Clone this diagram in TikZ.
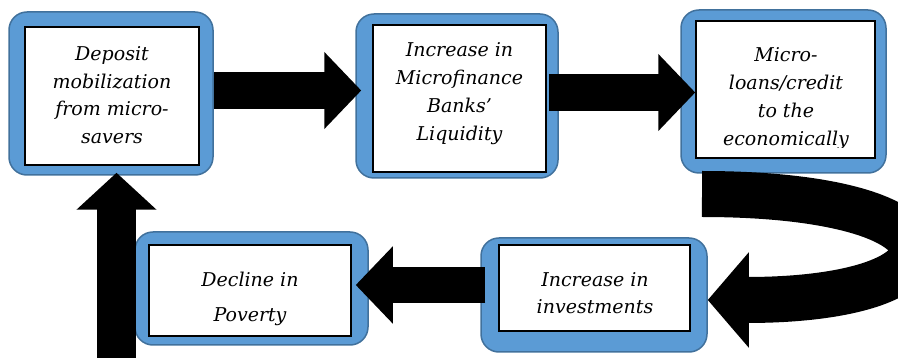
\documentclass[tikz,border=0pt]{standalone}
\usepackage{fontspec}
\setmainfont{DejaVu Serif}
\usetikzlibrary{arrows.meta}
\definecolor{boxblue}{HTML}{5B9BD5}
\definecolor{boxedge}{HTML}{41719C}
\tikzset{
  outerbox/.style={draw=boxedge, fill=boxblue, line width=1.5pt, rounded corners=18pt, inner sep=0pt},
  innerbox/.style={draw=black, fill=white, line width=1.6pt, inner sep=0pt},
  txt/.style={font=\itshape\fontsize{19}{27.5}\selectfont, align=center, inner sep=0pt},
  txtb/.style={font=\itshape\fontsize{19}{28}\selectfont, align=center, inner sep=0pt},
  txtwide/.style={font=\itshape\fontsize{19}{35}\selectfont, align=center, inner sep=0pt},
  blockarrow/.style={draw=black, line width=37pt, -{Triangle[length=37pt,width=75pt]}},
}
\begin{document}
\begin{tikzpicture}[x=1pt,y=-1pt]
\clip (0,0) rectangle (898,358);
% boxes
\node[outerbox, minimum width=204pt, minimum height=163pt] (o1) at (111,93.5) {};
\node[innerbox, minimum width=174pt, minimum height=138pt] (i1) at (112,96) {};
\node[outerbox, minimum width=202pt, minimum height=164pt] (o2) at (457,96) {};
\node[innerbox, minimum width=173pt, minimum height=147pt] (i2) at (459.5,98.5) {};
\node[outerbox, minimum width=205pt, minimum height=163pt] (o3) at (783.5,91.5) {};
\node[innerbox, minimum width=179pt, minimum height=137pt] (i3) at (785.5,89.5) {};
\node[outerbox, minimum width=233pt, minimum height=113pt] (o4) at (251.5,288.5) {};
\node[innerbox, minimum width=202pt, minimum height=91pt] (i4) at (250,290.5) {};
\node[outerbox, minimum width=226pt, minimum height=114pt] (o5) at (594,295) {};
\node[innerbox, minimum width=191pt, minimum height=86pt] (i5) at (594.5,288) {};
% texts (base anchor = baseline of last line)
\node[txt, anchor=base] (t1) at (112,143.5) {Deposit\\mobilization\\from micro-\\savers};
\node[txtb, anchor=base] (t2) at (459.5,140.5) {Increase in\\Microfinance\\Banks'\\Liquidity};
\begin{scope}
\clip (i3.north west) rectangle ([yshift=11pt]i3.south east);
\node[txtb, anchor=base] (t3) at (786,146) {Micro-\\loans/credit\\to the\\economically};
\end{scope}
\node[txtwide, anchor=base] (t4) at (250,322) {Decline in\\Poverty};
\node[txt, anchor=base] (t5) at (595,314) {Increase in\\investments};
% arrows
\draw[blockarrow] ([yshift=3pt]o1.east) -- ([xshift=6pt,yshift=5.5pt]o2.west);
\draw[blockarrow] ([xshift=-10pt,yshift=3.5pt]o2.east) -- ([xshift=15pt,yshift=-1pt]o3.west);
\draw[blockarrow, line width=36pt] ([xshift=5pt,yshift=10pt]o5.west) -- ([xshift=-13pt,yshift=3.5pt]o4.east);
\coordinate (upstart) at (116.5,362);
\draw[blockarrow, line width=39pt, -{Triangle[length=37pt,width=78pt]}] (upstart) -- ([xshift=5.5pt,yshift=3pt]o1.south);
\coordinate (curvestart) at (702,194);
\draw[draw=black, line width=46pt, -{Triangle[length=41pt,width=93pt]}] (curvestart) .. controls (975,194) and (975,300) .. ([yshift=-5pt]o5.east);
\end{tikzpicture}
\end{document}
